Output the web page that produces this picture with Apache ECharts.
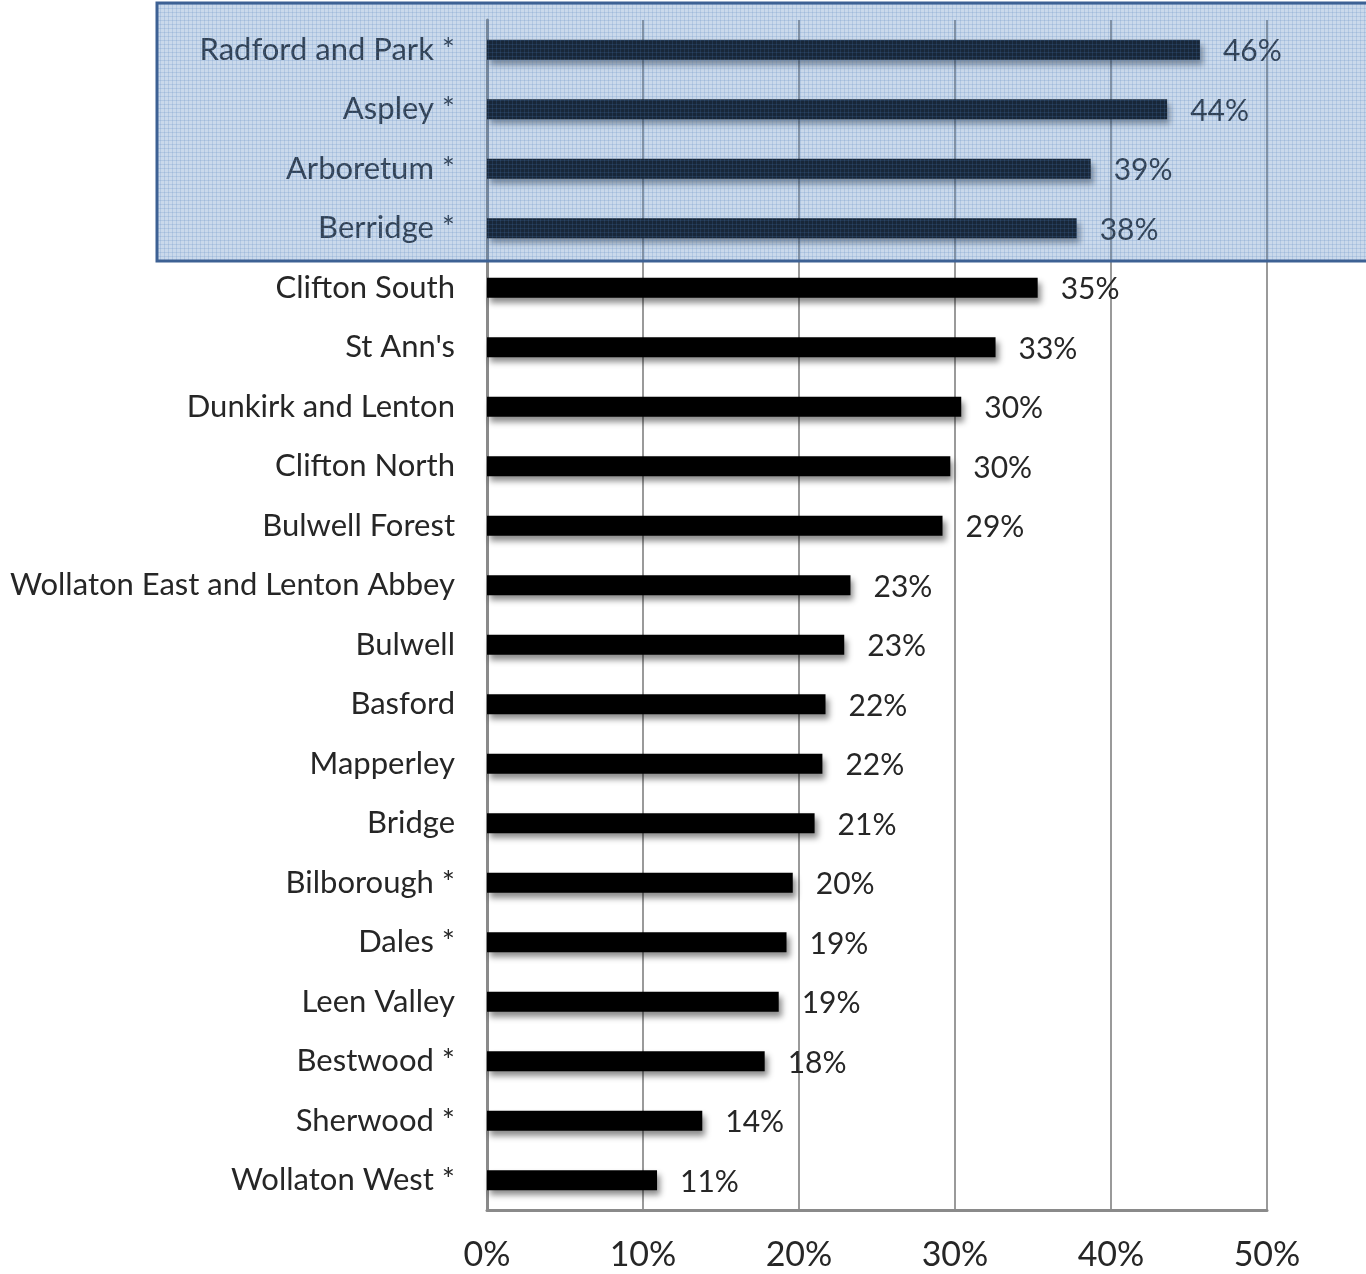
<!DOCTYPE html>
<html>
<head>
<meta charset="utf-8">
<script src="https://cdn.jsdelivr.net/npm/echarts@6/dist/echarts.min.js"></script>
<style>
  html, body { margin: 0; padding: 0; background: #ffffff; }
  #chart { width: 1366px; height: 1274px; }
</style>
</head>
<body>
<div id="chart"></div>
<script>
// wards, top to bottom
var wards = [
  "Radford and Park *", "Aspley *", "Arboretum *", "Berridge *", "Clifton South",
  "St Ann's", "Dunkirk and Lenton", "Clifton North", "Bulwell Forest",
  "Wollaton East and Lenton Abbey", "Bulwell", "Basford", "Mapperley", "Bridge",
  "Bilborough *", "Dales *", "Leen Valley", "Bestwood *", "Sherwood *", "Wollaton West *"
];
// percent values
var percents = [45.7, 43.6, 38.7, 37.8, 35.3, 32.6, 30.4, 29.7, 29.2, 23.3,
  22.9, 21.7, 21.5, 21.0, 19.6, 19.2, 18.7, 17.8, 13.8, 10.9];
var tickValues = [0, 10, 20, 30, 40, 50];

var fontName = "Lato, 'Open Sans', sans-serif";

// little grid texture for the highlight box
var pat = document.createElement("canvas");
pat.width = 4;
pat.height = 4;
var pc = pat.getContext("2d");
pc.fillStyle = "rgba(79,129,189,0.30)";
pc.fillRect(0, 0, 4, 4);
pc.fillStyle = "rgba(79,129,189,0.18)";
pc.fillRect(0, 0, 4, 1);
pc.fillRect(0, 0, 1, 4);

var chart = echarts.init(document.getElementById("chart"));
chart.setOption({
  animation: false,
  grid: { left: 487, right: 99, top: 20, bottom: 64 },
  xAxis: {
    type: "value",
    min: tickValues[0],
    max: tickValues[tickValues.length - 1],
    interval: 10,
    axisLine: { show: true, lineStyle: { color: "#8a8a8a", width: 3 } },
    axisTick: { show: false },
    splitLine: { show: true, lineStyle: { color: "#9a9a9a", width: 2 } },
    axisLabel: {
      formatter: "{value}%",
      color: "#262626",
      fontFamily: fontName,
      fontSize: 34,
      margin: 28
    }
  },
  yAxis: {
    type: "category",
    inverse: true,
    data: wards,
    axisLine: { show: true, lineStyle: { color: "#8a8a8a", width: 3 } },
    axisTick: { show: false },
    axisLabel: {
      color: "#262626",
      fontFamily: fontName,
      fontSize: 31,
      margin: 32
    }
  },
  series: [
    {
      type: "bar",
      data: percents,
      barWidth: 20,
      itemStyle: {
        color: "#000000",
        shadowColor: "rgba(0,0,0,0.45)",
        shadowBlur: 6,
        shadowOffsetX: 3,
        shadowOffsetY: 5
      },
      label: {
        show: true,
        position: "right",
        distance: 23,
        offset: [0, 2],
        color: "#262626",
        fontFamily: fontName,
        fontSize: 30,
        formatter: function (p) {
          return Math.round(p.value) + "%";
        }
      }
    }
  ],
  graphic: [
    {
      type: "rect",
      z: 100,
      shape: { x: 157, y: 3, width: 1212, height: 258 },
      style: {
        fill: { image: pat, repeat: "repeat" },
        stroke: "#3d6194",
        lineWidth: 3
      }
    }
  ]
});
</script>
</body>
</html>
